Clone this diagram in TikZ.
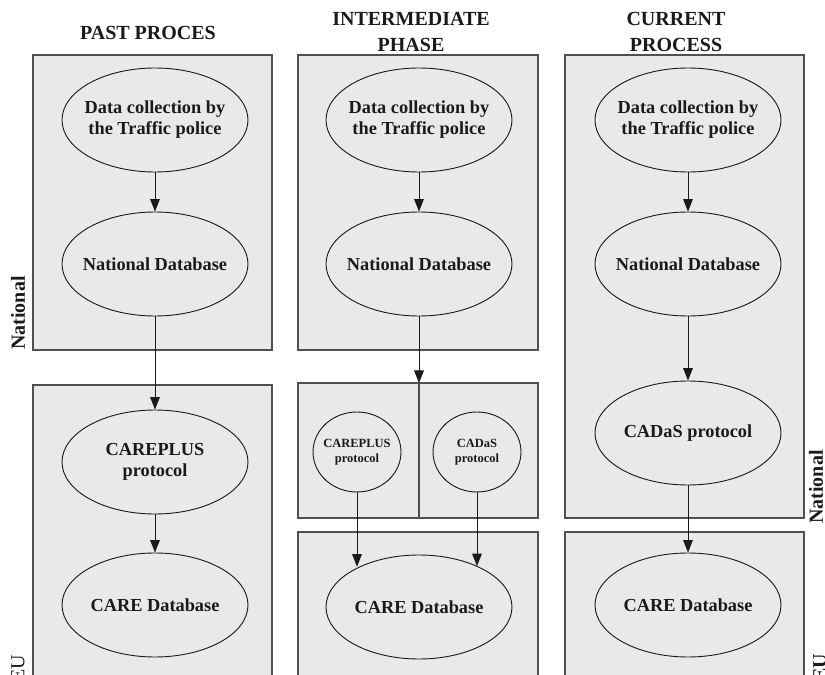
\documentclass[tikz,border=0pt]{standalone}
\usepackage{fontspec}
\setmainfont{Liberation Serif}
\usetikzlibrary{shapes.geometric,arrows.meta,positioning}
\definecolor{boxFill}{HTML}{E8E9EA}
\definecolor{boxDraw}{HTML}{505050}
\definecolor{inkCol}{HTML}{1A1A1A}

\begin{document}
\begin{tikzpicture}[x=0.6pt,y=-0.6pt,
  panel/.style={fill=boxFill,draw=boxDraw,line width=0.9pt},
  el/.style={ellipse,draw=inkCol,line width=0.55pt,align=center,inner ysep=0pt,inner xsep=-6pt,
             font=\fontsize{11}{12.5}\selectfont\bfseries,text=inkCol},
  big/.style={el,minimum width=111.6pt,minimum height=62.4pt},
  small/.style={el,minimum width=52.8pt,minimum height=48pt,inner xsep=-4pt,
                font=\fontsize{7.5}{9}\selectfont\bfseries},
  arr/.style={-{Triangle[length=7.5pt,width=5.8pt]},draw=inkCol,line width=0.6pt},
  ttl/.style={font=\fontsize{12}{16}\selectfont\bfseries,align=center,text=inkCol},
  side/.style={font=\fontsize{12}{14}\selectfont\bfseries,rotate=90,text=inkCol},
]
\path[use as bounding box] (0,0) rectangle (825,675);

% ---- panels -------------------------------------------------------------
% past process
\draw[panel] (33,55)  rectangle (272,350);
\draw[panel] (33,385) rectangle (272,700);
% intermediate phase
\draw[panel] (298,55)  rectangle (538,350);
\draw[panel] (298,383) rectangle (538,518);
\draw[panel] (298,532) rectangle (538,700);
% current process
\draw[panel] (565,55)  rectangle (804,518);
\draw[panel] (565,532) rectangle (804,700);

% ---- national steps (same in all three columns) -------------------------
\foreach \c/\X in {1/155,2/419,3/688}{
  \node[big] (D\c) at (\X,120) {Data collection by\\the Traffic police};
  \node[big] (N\c) at (\X,264) {National Database};
}

% past process
\node[big] (CP1)   at (155,462) {CAREPLUS\\protocol};
\node[big] (CARE1) at (155,605) {CARE Database};

% intermediate phase
\node[small] (CP2)   at (357,452) {CAREPLUS\\protocol};
\node[small] (CD2)   at (477,452) {CADaS\\protocol};
\node[big]   (CARE2) at (419,607) {CARE Database};
\coordinate (split)    at (419,383);
\coordinate (splitEnd) at (419,518);

% current process
\node[big] (CD3)   at (688,433) {CADaS protocol};
\node[big] (CARE3) at (688,605) {CARE Database};

% ---- connectors ---------------------------------------------------------
\foreach \c in {1,2,3}
  \draw[arr] (D\c) -- (N\c);
\draw[arr] (N1) -- (CP1);
\draw[arr] (CP1) -- (CARE1);
\draw[arr] (N2) -- (split);
\draw[boxDraw,line width=0.9pt] (split) -- (splitEnd);
\draw[arr] (CP2.south) -- (CP2.south |- CARE2.146);
\draw[arr] (CD2.south) -- (CD2.south |- CARE2.35);
\draw[arr] (N3) -- (CD3);
\draw[arr] (CD3) -- (CARE3);

% ---- captions -----------------------------------------------------------
\node[ttl] (tPast)  at (148,33) {PAST PROCES};
\node[ttl] (tInter) at (411,32) {INTERMEDIATE\\PHASE};
\node[ttl] (tCurr)  at (676,32) {CURRENT\\PROCESS};

\node[side] (natL) at (18,313) {National};
\node[side,font=\fontsize{12}{14}\selectfont] (euL) at (18,668) {EU};
\node[side] (natR) at (816,487) {National};
\node[side] (euR)  at (820,668) {EU};

\end{tikzpicture}
\end{document}
